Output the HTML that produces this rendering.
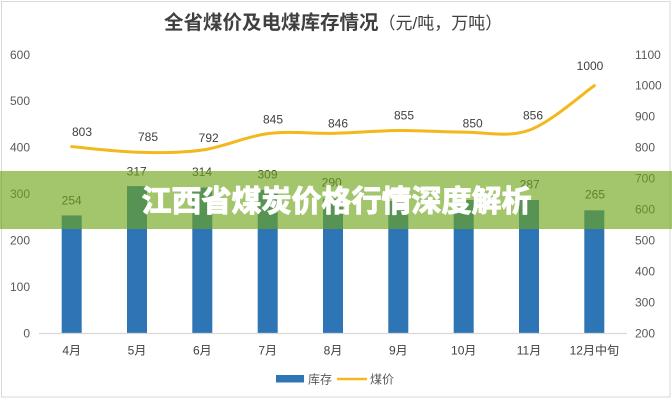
<!DOCTYPE html>
<html><head><meta charset="utf-8">
<style>
html,body{margin:0;padding:0;background:#fff;}
svg{display:block;}
text{font-family:"Liberation Sans","Noto Sans CJK SC",sans-serif;}
</style></head>
<body>
<svg width="672" height="400" viewBox="0 0 672 400" xmlns="http://www.w3.org/2000/svg">
<rect x="0" y="0" width="672" height="400" fill="#fff"/>
<rect x="1.5" y="1.5" width="668.5" height="395.5" fill="none" stroke="#d9d9d9" stroke-width="1"/>

<!-- title -->
<text x="164" y="29" fill="#404040" font-size="19.5" font-weight="bold">全省煤价及电煤库存情况<tspan font-size="17" font-weight="normal">（元/吨，万吨）</tspan></text>

<!-- left axis labels -->
<g fill="#595959" font-size="12" text-anchor="end">
<text x="30" y="337.5">0</text>
<text x="30" y="291">100</text>
<text x="30" y="244.5">200</text>
<text x="30" y="198">300</text>
<text x="30" y="151.6">400</text>
<text x="30" y="105.2">500</text>
<text x="30" y="58.8">600</text>
</g>
<!-- right axis labels -->
<g fill="#595959" font-size="12" text-anchor="start">
<text x="635" y="337.5">200</text>
<text x="635" y="306.5">300</text>
<text x="635" y="275.5">400</text>
<text x="635" y="244.6">500</text>
<text x="635" y="213.6">600</text>
<text x="635" y="182.6">700</text>
<text x="635" y="151.7">800</text>
<text x="635" y="120.7">900</text>
<text x="635" y="89.7">1000</text>
<text x="635" y="58.8">1100</text>
</g>

<!-- bars -->
<g fill="#2E75B6">
<rect x="61.7" y="215.4" width="20" height="117.9"/>
<rect x="127" y="186.1" width="20" height="147.2"/>
<rect x="192.3" y="187.5" width="20" height="145.8"/>
<rect x="257.7" y="189.8" width="20" height="143.5"/>
<rect x="323" y="198.7" width="20" height="134.6"/>
<rect x="388.3" y="201" width="20" height="132.3"/>
<rect x="453.7" y="200" width="20" height="133.3"/>
<rect x="519" y="200" width="20" height="133.3"/>
<rect x="584.3" y="210.3" width="20" height="123"/>
</g>

<!-- x axis -->
<line x1="39" y1="333.5" x2="627" y2="333.5" stroke="#d9d9d9" stroke-width="1.2"/>

<!-- category labels -->
<g fill="#404040" font-size="12" text-anchor="middle">
<text x="71.7" y="354.5">4月</text>
<text x="137" y="354.5">5月</text>
<text x="202.3" y="354.5">6月</text>
<text x="267.7" y="354.5">7月</text>
<text x="333" y="354.5">8月</text>
<text x="398.3" y="354.5">9月</text>
<text x="463.7" y="354.5">10月</text>
<text x="529" y="354.5">11月</text>
<text x="594.3" y="354.5">12月中旬</text>
</g>

<!-- bar value labels -->
<g fill="#404040" font-size="12" text-anchor="middle">
<text x="71.7" y="204.3">254</text>
<text x="136.7" y="175.3">317</text>
<text x="202" y="176">314</text>
<text x="267.5" y="178.3">309</text>
<text x="331.7" y="186.6">290</text>
<text x="529.7" y="188.3">287</text>
<text x="595" y="198.3">265</text>
</g>

<!-- price line -->
<path d="M71.67,146.64 C82.56,147.57 115.22,151.63 137,152.2 C158.78,152.77 180.55,153.14 202.33,150.04 C224.11,146.95 245.89,136.42 267.67,133.63 C289.45,130.84 311.22,133.84 333,133.32 C354.78,132.81 376.55,130.75 398.33,130.54 C420.11,130.34 441.89,132.14 463.67,132.09 C485.45,132.04 507.22,137.97 529,130.23 C550.78,122.49 583.44,93.08 594.33,85.65" fill="none" stroke="#F2B81C" stroke-width="3" stroke-linecap="round"/>

<!-- price labels -->
<g fill="#404040" font-size="12" text-anchor="middle">
<text x="82" y="136">803</text>
<text x="148" y="141">785</text>
<text x="208.7" y="142">792</text>
<text x="273" y="123.3">845</text>
<text x="338" y="127.6">846</text>
<text x="404" y="119.3">855</text>
<text x="472.7" y="127.6">850</text>
<text x="533" y="119.3">856</text>
<text x="590" y="70">1000</text>
</g>

<!-- legend -->
<rect x="276" y="375" width="28" height="7.5" fill="#2E75B6"/>
<text x="308" y="383.5" fill="#595959" font-size="12">库存</text>
<line x1="337" y1="379" x2="367" y2="379" stroke="#F2B81C" stroke-width="2.5"/>
<text x="370" y="383.5" fill="#595959" font-size="12">煤价</text>

<!-- banner overlay -->
<rect x="0" y="171" width="672" height="58" fill="rgb(111,166,26)" fill-opacity="0.64"/>
<text x="336.5" y="211.5" fill="#ffffff" stroke="#ffffff" stroke-width="1.1" stroke-linejoin="round" font-size="30" font-weight="bold" text-anchor="middle">江西省煤炭价格行情深度解析</text>
</svg>
</body></html>
